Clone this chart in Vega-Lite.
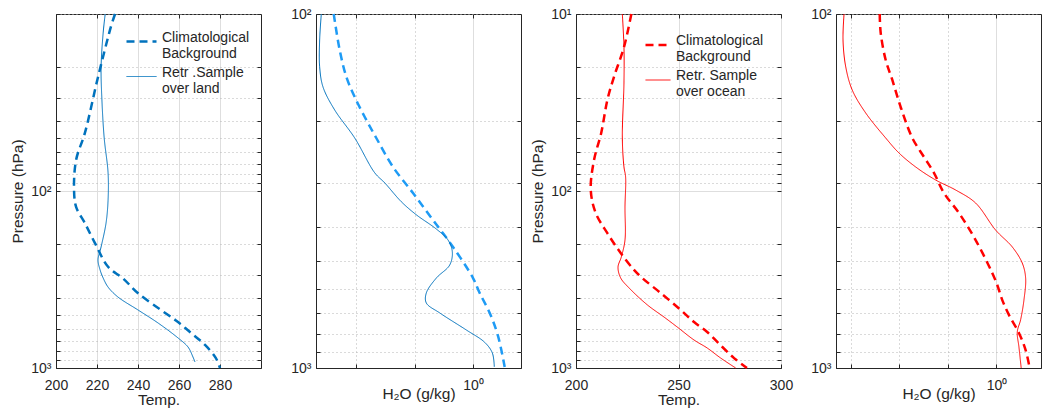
{
  "$schema": "https://vega.github.io/schema/vega-lite/v6.json",
  "background": "white",
  "padding": {"left": 10, "top": 6, "right": 0, "bottom": 0},
  "spacing": 55,
  "bounds": "flush",
  "config": {
    "font": "Liberation Sans",
    "view": {"stroke": "#262626", "strokeWidth": 1},
    "axis": {
      "labelFont": "Liberation Sans", "labelFontSize": 14, "labelColor": "#262626",
      "titleFont": "Liberation Sans", "titleFontSize": 15.5, "titleFontWeight": "normal", "titleColor": "#262626",
      "domainColor": "#262626", "tickColor": "#262626", "tickSize": -4, "labelPadding": 9,
      "gridColor": "#dedede", "labelFlush": false, "labelOverlap": false, "labelBound": false
    },
    "axisBottom": {"labelPadding": 14},
    "legend": {
      "orient": "top-right", "offset": 11, "padding": 0, "labelFont": "Liberation Sans",
      "labelFontSize": 14, "labelColor": "#262626", "symbolType": "stroke", "symbolSize": 900,
      "labelOffset": 4, "rowPadding": 0, "labelLimit": 0, "labelBaseline": "alphabetic"
    },
    "line": {"interpolate": "catmull-rom", "clip": true}
  },
  "datasets": {
    "p1": [
      {"series": "Climatological Background", "T": 228.8, "p": 10},
      {"series": "Climatological Background", "T": 226.8, "p": 11.8},
      {"series": "Climatological Background", "T": 220.5, "p": 22.7},
      {"series": "Climatological Background", "T": 214.1, "p": 47},
      {"series": "Climatological Background", "T": 209.8, "p": 66.8},
      {"series": "Climatological Background", "T": 208.8, "p": 98.7},
      {"series": "Climatological Background", "T": 209.8, "p": 123},
      {"series": "Climatological Background", "T": 214.1, "p": 152},
      {"series": "Climatological Background", "T": 219, "p": 197},
      {"series": "Climatological Background", "T": 225.4, "p": 268},
      {"series": "Climatological Background", "T": 232.7, "p": 312},
      {"series": "Climatological Background", "T": 239.9, "p": 377},
      {"series": "Climatological Background", "T": 251.2, "p": 470},
      {"series": "Climatological Background", "T": 259.5, "p": 550},
      {"series": "Climatological Background", "T": 265.9, "p": 634},
      {"series": "Climatological Background", "T": 272.7, "p": 741},
      {"series": "Climatological Background", "T": 278, "p": 879},
      {"series": "Climatological Background", "T": 280, "p": 1000},
      {"series": "Retr .Sample over land", "T": 224, "p": 10},
      {"series": "Retr .Sample over land", "T": 223, "p": 12.8},
      {"series": "Retr .Sample over land", "T": 222, "p": 19.9},
      {"series": "Retr .Sample over land", "T": 222.4, "p": 30.6},
      {"series": "Retr .Sample over land", "T": 223.5, "p": 50},
      {"series": "Retr .Sample over land", "T": 225.4, "p": 79},
      {"series": "Retr .Sample over land", "T": 225.4, "p": 112.6},
      {"series": "Retr .Sample over land", "T": 224.4, "p": 152},
      {"series": "Retr .Sample over land", "T": 222, "p": 207},
      {"series": "Retr .Sample over land", "T": 220.5, "p": 245},
      {"series": "Retr .Sample over land", "T": 221.5, "p": 279},
      {"series": "Retr .Sample over land", "T": 223, "p": 310},
      {"series": "Retr .Sample over land", "T": 225.4, "p": 349},
      {"series": "Retr .Sample over land", "T": 230.2, "p": 397},
      {"series": "Retr .Sample over land", "T": 240, "p": 470},
      {"series": "Retr .Sample over land", "T": 249.8, "p": 557},
      {"series": "Retr .Sample over land", "T": 259.5, "p": 676},
      {"series": "Retr .Sample over land", "T": 264.4, "p": 761},
      {"series": "Retr .Sample over land", "T": 266.8, "p": 866},
      {"series": "Retr .Sample over land", "T": 267.8, "p": 925}
    ],
    "p2": [
      {"series": "clim", "q": 0.00416, "p": 100},
      {"series": "clim", "q": 0.00526, "p": 126.4},
      {"series": "clim", "q": 0.00684, "p": 150.6},
      {"series": "clim", "q": 0.0095, "p": 171.6},
      {"series": "clim", "q": 0.0141, "p": 195.4},
      {"series": "clim", "q": 0.0222, "p": 224},
      {"series": "clim", "q": 0.0429, "p": 270.5},
      {"series": "clim", "q": 0.0942, "p": 320.4},
      {"series": "clim", "q": 0.207, "p": 381.9},
      {"series": "clim", "q": 0.455, "p": 455},
      {"series": "clim", "q": 1.0, "p": 557},
      {"series": "clim", "q": 1.3, "p": 614},
      {"series": "clim", "q": 1.93, "p": 699},
      {"series": "clim", "q": 2.68, "p": 813},
      {"series": "clim", "q": 3.48, "p": 993},
      {"series": "retr", "q": 0.00255, "p": 100},
      {"series": "retr", "q": 0.00239, "p": 118.4},
      {"series": "retr", "q": 0.00239, "p": 141},
      {"series": "retr", "q": 0.00273, "p": 160.8},
      {"series": "retr", "q": 0.00432, "p": 186.7},
      {"series": "retr", "q": 0.0095, "p": 224},
      {"series": "retr", "q": 0.0209, "p": 281},
      {"series": "retr", "q": 0.031, "p": 300},
      {"series": "retr", "q": 0.0594, "p": 339},
      {"series": "retr", "q": 0.107, "p": 369},
      {"series": "retr", "q": 0.236, "p": 405},
      {"series": "retr", "q": 0.374, "p": 435},
      {"series": "retr", "q": 0.443, "p": 470},
      {"series": "retr", "q": 0.399, "p": 512},
      {"series": "retr", "q": 0.236, "p": 557},
      {"series": "retr", "q": 0.159, "p": 614},
      {"series": "retr", "q": 0.159, "p": 655},
      {"series": "retr", "q": 0.27, "p": 699},
      {"series": "retr", "q": 0.769, "p": 781},
      {"series": "retr", "q": 1.58, "p": 846},
      {"series": "retr", "q": 2.14, "p": 907},
      {"series": "retr", "q": 2.31, "p": 993}
    ],
    "p3": [
      {"series": "Climatological Background", "T": 227, "p": 10},
      {"series": "Climatological Background", "T": 223.4, "p": 15.4},
      {"series": "Climatological Background", "T": 218.5, "p": 22.7},
      {"series": "Climatological Background", "T": 215.3, "p": 30.6},
      {"series": "Climatological Background", "T": 212.3, "p": 47},
      {"series": "Climatological Background", "T": 208.8, "p": 66.8},
      {"series": "Climatological Background", "T": 207.2, "p": 98.6},
      {"series": "Climatological Background", "T": 209.6, "p": 133},
      {"series": "Climatological Background", "T": 215.3, "p": 173},
      {"series": "Climatological Background", "T": 221.8, "p": 224},
      {"series": "Climatological Background", "T": 228.3, "p": 279},
      {"series": "Climatological Background", "T": 232.3, "p": 310},
      {"series": "Climatological Background", "T": 241.3, "p": 377},
      {"series": "Climatological Background", "T": 251.1, "p": 470},
      {"series": "Climatological Background", "T": 257.6, "p": 550},
      {"series": "Climatological Background", "T": 264, "p": 626},
      {"series": "Climatological Background", "T": 271.4, "p": 761},
      {"series": "Climatological Background", "T": 277.1, "p": 879},
      {"series": "Climatological Background", "T": 283.4, "p": 1000},
      {"series": "Retr. Sample over ocean", "T": 222.6, "p": 10},
      {"series": "Retr. Sample over ocean", "T": 223.4, "p": 15.4},
      {"series": "Retr. Sample over ocean", "T": 223.4, "p": 24.5},
      {"series": "Retr. Sample over ocean", "T": 222.6, "p": 50.2},
      {"series": "Retr. Sample over ocean", "T": 223.4, "p": 73.2},
      {"series": "Retr. Sample over ocean", "T": 224.2, "p": 83.3},
      {"series": "Retr. Sample over ocean", "T": 223.9, "p": 123},
      {"series": "Retr. Sample over ocean", "T": 223.9, "p": 189},
      {"series": "Retr. Sample over ocean", "T": 222.1, "p": 236},
      {"series": "Retr. Sample over ocean", "T": 220.5, "p": 269},
      {"series": "Retr. Sample over ocean", "T": 221.8, "p": 310},
      {"series": "Retr. Sample over ocean", "T": 225.9, "p": 353},
      {"series": "Retr. Sample over ocean", "T": 234.8, "p": 440},
      {"series": "Retr. Sample over ocean", "T": 242.9, "p": 515},
      {"series": "Retr. Sample over ocean", "T": 249.4, "p": 587},
      {"series": "Retr. Sample over ocean", "T": 257.6, "p": 695},
      {"series": "Retr. Sample over ocean", "T": 264, "p": 771},
      {"series": "Retr. Sample over ocean", "T": 270.6, "p": 879},
      {"series": "Retr. Sample over ocean", "T": 277.9, "p": 1000}
    ],
    "p4": [
      {"series": "clim", "q": 0.00391, "p": 100},
      {"series": "clim", "q": 0.0041, "p": 113.2},
      {"series": "clim", "q": 0.00519, "p": 134.9},
      {"series": "clim", "q": 0.00711, "p": 153.6},
      {"series": "clim", "q": 0.0106, "p": 183.2},
      {"series": "clim", "q": 0.0184, "p": 224},
      {"series": "clim", "q": 0.032, "p": 253.5},
      {"series": "clim", "q": 0.0514, "p": 281},
      {"series": "clim", "q": 0.0828, "p": 320.4},
      {"series": "clim", "q": 0.169, "p": 365},
      {"series": "clim", "q": 0.372, "p": 435},
      {"series": "clim", "q": 0.819, "p": 539},
      {"series": "clim", "q": 1.04, "p": 583},
      {"series": "clim", "q": 1.32, "p": 643},
      {"series": "clim", "q": 1.81, "p": 708},
      {"series": "clim", "q": 2.91, "p": 796},
      {"series": "clim", "q": 4.0, "p": 890},
      {"series": "clim", "q": 4.84, "p": 1000},
      {"series": "retr", "q": 0.000718, "p": 100},
      {"series": "retr", "q": 0.000684, "p": 118.4},
      {"series": "retr", "q": 0.000778, "p": 141},
      {"series": "retr", "q": 0.00106, "p": 164},
      {"series": "retr", "q": 0.00201, "p": 190.4},
      {"series": "retr", "q": 0.00519, "p": 224},
      {"series": "retr", "q": 0.00977, "p": 247},
      {"series": "retr", "q": 0.0216, "p": 270.5},
      {"series": "retr", "q": 0.0557, "p": 294.4},
      {"series": "retr", "q": 0.144, "p": 314.2},
      {"series": "retr", "q": 0.372, "p": 342},
      {"series": "retr", "q": 0.96, "p": 407.6},
      {"series": "retr", "q": 2.12, "p": 455},
      {"series": "retr", "q": 3.4, "p": 505},
      {"series": "retr", "q": 4.0, "p": 557},
      {"series": "retr", "q": 3.69, "p": 643},
      {"series": "retr", "q": 3.15, "p": 731},
      {"series": "retr", "q": 2.69, "p": 791},
      {"series": "retr", "q": 2.91, "p": 872},
      {"series": "retr", "q": 3.24, "p": 1000}
    ]
  },
  "resolve": {"scale": {"color": "independent", "strokeDash": "independent", "strokeWidth": "independent"}, "legend": {"color": "independent", "strokeDash": "independent", "strokeWidth": "independent"}},
  "hconcat": [
    {
      "width": 205, "height": 354,
      "data": {"name": "p1"},
      "encoding": {
        "color": {"field": "series", "type": "nominal", "scale": {"domain": ["Climatological Background", "Retr .Sample over land"], "range": ["#0072BD", "#0072BD"]}, "legend": {"title": null, "offset": 11, "symbolSize": 900, "labelExpr": "datum.label == 'Climatological Background' ? ['Climatological','Background'] : ['Retr .Sample','over land']"}},
        "strokeDash": {"field": "series", "type": "nominal", "scale": {"domain": ["Climatological Background", "Retr .Sample over land"], "range": [[8, 5], [1, 0]]}, "legend": {"title": null, "offset": 11, "symbolSize": 900, "labelExpr": "datum.label == 'Climatological Background' ? ['Climatological','Background'] : ['Retr .Sample','over land']"}},
        "strokeWidth": {"field": "series", "type": "nominal", "scale": {"domain": ["Climatological Background", "Retr .Sample over land"], "range": [2.5, 1]}, "legend": {"title": null, "offset": 11, "symbolSize": 900, "labelExpr": "datum.label == 'Climatological Background' ? ['Climatological','Background'] : ['Retr .Sample','over land']"}},
        "order": {"field": "p", "type": "quantitative"}
      },
      "layer": [
        {
          "transform": [{"filter": "datum.series == 'Climatological Background'"}],
          "mark": "line",
          "encoding": {
            "x": {"field": "T", "type": "quantitative", "scale": {"domain": [200, 300], "nice": false, "zero": false}, "axis": {"orient": "bottom", "title": "Temp.", "titlePadding": 0, "values": [200, 220, 240, 260, 280], "grid": true}},
            "y": {"field": "p", "type": "quantitative", "scale": {"type": "log", "domain": [10, 1000], "reverse": true, "nice": false}, "axis": {"orient": "left", "title": "Pressure (hPa)", "titlePadding": 5, "values": [10, 20, 30, 40, 50, 60, 70, 80, 90, 100, 200, 300, 400, 500, 600, 700, 800, 900, 1000], "labelExpr": "datum.value == 100 ? '10²' : datum.value == 1000 ? '10³' : ''", "grid": true, "gridDash": {"condition": {"test": "datum.value == 100", "value": []}, "value": [1, 3]}, "gridColor": {"condition": {"test": "datum.value == 100", "value": "#dedede"}, "value": "#b5b5b5"}}}
          }
        },
        {
          "transform": [{"filter": "datum.series != 'Climatological Background'"}],
          "mark": "line",
          "encoding": {
            "x": {"field": "T", "type": "quantitative", "axis": {"orient": "top", "labels": false, "title": null, "domain": false, "grid": false, "values": [200, 220, 240, 260, 280]}},
            "y": {"field": "p", "type": "quantitative", "axis": {"orient": "right", "labels": false, "title": null, "domain": false, "grid": false, "values": [10, 20, 30, 40, 50, 60, 70, 80, 90, 100, 200, 300, 400, 500, 600, 700, 800, 900, 1000]}}
          }
        }
      ],
      "resolve": {"axis": {"x": "independent", "y": "independent"}}
    },
    {
      "width": 205, "height": 354,
      "data": {"name": "p2"},
      "encoding": {
        "color": {"field": "series", "type": "nominal", "scale": {"domain": ["clim", "retr"], "range": ["#1E9BF5", "#0072BD"]}, "legend": null},
        "strokeDash": {"field": "series", "type": "nominal", "scale": {"domain": ["clim", "retr"], "range": [[8, 5], [1, 0]]}, "legend": null},
        "strokeWidth": {"field": "series", "type": "nominal", "scale": {"domain": ["clim", "retr"], "range": [2.5, 1]}, "legend": null},
        "order": {"field": "p", "type": "quantitative"}
      },
      "layer": [
        {
          "transform": [{"filter": "datum.series == 'clim'"}],
          "mark": "line",
          "encoding": {
            "x": {"field": "q", "type": "quantitative", "scale": {"type": "log", "domain": [0.00207, 6.61], "nice": false}, "axis": {"orient": "bottom", "title": "H₂O (g/kg)", "titlePadding": -6, "values": [0.01, 0.1, 1], "labelExpr": "datum.value == 1 ? '10⁰' : ''", "grid": true, "gridDash": {"condition": {"test": "datum.value == 1", "value": []}, "value": [1, 3]}, "gridColor": {"condition": {"test": "datum.value == 1", "value": "#dedede"}, "value": "#b5b5b5"}}},
            "y": {"field": "p", "type": "quantitative", "scale": {"type": "log", "domain": [100, 1000], "reverse": true, "nice": false}, "axis": {"orient": "left", "title": null, "values": [100, 200, 300, 400, 500, 600, 700, 800, 900, 1000], "labelExpr": "datum.value == 100 ? '10²' : datum.value == 1000 ? '10³' : ''", "grid": true, "gridDash": [1, 3], "gridColor": "#b5b5b5"}}
          }
        },
        {
          "transform": [{"filter": "datum.series == 'retr'"}],
          "mark": "line",
          "encoding": {
            "x": {"field": "q", "type": "quantitative", "axis": {"orient": "top", "labels": false, "title": null, "domain": false, "grid": false, "values": [0.01, 0.1, 1]}},
            "y": {"field": "p", "type": "quantitative", "axis": {"orient": "right", "labels": false, "title": null, "domain": false, "grid": false, "values": [100, 200, 300, 400, 500, 600, 700, 800, 900, 1000]}}
          }
        }
      ],
      "resolve": {"axis": {"x": "independent", "y": "independent"}}
    },
    {
      "width": 205, "height": 354,
      "data": {"name": "p3"},
      "encoding": {
        "color": {"field": "series", "type": "nominal", "scale": {"domain": ["Climatological Background", "Retr. Sample over ocean"], "range": ["#FF0000", "#FF0000"]}, "legend": {"title": null, "offset": 17, "rowPadding": 3, "symbolSize": 625, "labelExpr": "datum.label == 'Climatological Background' ? ['Climatological','Background'] : ['Retr. Sample','over ocean']"}},
        "strokeDash": {"field": "series", "type": "nominal", "scale": {"domain": ["Climatological Background", "Retr. Sample over ocean"], "range": [[8, 5], [1, 0]]}, "legend": {"title": null, "offset": 17, "rowPadding": 3, "symbolSize": 625, "labelExpr": "datum.label == 'Climatological Background' ? ['Climatological','Background'] : ['Retr. Sample','over ocean']"}},
        "strokeWidth": {"field": "series", "type": "nominal", "scale": {"domain": ["Climatological Background", "Retr. Sample over ocean"], "range": [2.5, 1]}, "legend": {"title": null, "offset": 17, "rowPadding": 3, "symbolSize": 625, "labelExpr": "datum.label == 'Climatological Background' ? ['Climatological','Background'] : ['Retr. Sample','over ocean']"}},
        "order": {"field": "p", "type": "quantitative"}
      },
      "layer": [
        {
          "transform": [{"filter": "datum.series == 'Climatological Background'"}],
          "mark": "line",
          "encoding": {
            "x": {"field": "T", "type": "quantitative", "scale": {"domain": [200, 300], "nice": false, "zero": false}, "axis": {"orient": "bottom", "title": "Temp.", "titlePadding": 0, "values": [200, 250, 300], "grid": true}},
            "y": {"field": "p", "type": "quantitative", "scale": {"type": "log", "domain": [10, 1000], "reverse": true, "nice": false}, "axis": {"orient": "left", "title": "Pressure (hPa)", "titlePadding": 5, "values": [10, 20, 30, 40, 50, 60, 70, 80, 90, 100, 200, 300, 400, 500, 600, 700, 800, 900, 1000], "labelExpr": "datum.value == 10 ? '10¹' : datum.value == 100 ? '10²' : datum.value == 1000 ? '10³' : ''", "grid": true, "gridDash": {"condition": {"test": "datum.value == 100", "value": []}, "value": [1, 3]}, "gridColor": {"condition": {"test": "datum.value == 100", "value": "#dedede"}, "value": "#b5b5b5"}}}
          }
        },
        {
          "transform": [{"filter": "datum.series != 'Climatological Background'"}],
          "mark": "line",
          "encoding": {
            "x": {"field": "T", "type": "quantitative", "axis": {"orient": "top", "labels": false, "title": null, "domain": false, "grid": false, "values": [200, 250, 300]}},
            "y": {"field": "p", "type": "quantitative", "axis": {"orient": "right", "labels": false, "title": null, "domain": false, "grid": false, "values": [10, 20, 30, 40, 50, 60, 70, 80, 90, 100, 200, 300, 400, 500, 600, 700, 800, 900, 1000]}}
          }
        }
      ],
      "resolve": {"axis": {"x": "independent", "y": "independent"}}
    },
    {
      "width": 205, "height": 354,
      "data": {"name": "p4"},
      "encoding": {
        "color": {"field": "series", "type": "nominal", "scale": {"domain": ["clim", "retr"], "range": ["#FF0000", "#FF0000"]}, "legend": null},
        "strokeDash": {"field": "series", "type": "nominal", "scale": {"domain": ["clim", "retr"], "range": [[8, 5], [1, 0]]}, "legend": null},
        "strokeWidth": {"field": "series", "type": "nominal", "scale": {"domain": ["clim", "retr"], "range": [2.5, 1]}, "legend": null},
        "order": {"field": "p", "type": "quantitative"}
      },
      "layer": [
        {
          "transform": [{"filter": "datum.series == 'clim'"}],
          "mark": "line",
          "encoding": {
            "x": {"field": "q", "type": "quantitative", "scale": {"type": "log", "domain": [0.00049, 8.3], "nice": false}, "axis": {"orient": "bottom", "title": "H₂O (g/kg)", "titlePadding": -6, "values": [0.001, 0.01, 0.1, 1], "labelExpr": "datum.value == 1 ? '10⁰' : ''", "grid": true, "gridDash": {"condition": {"test": "datum.value == 1", "value": []}, "value": [1, 3]}, "gridColor": {"condition": {"test": "datum.value == 1", "value": "#dedede"}, "value": "#b5b5b5"}}},
            "y": {"field": "p", "type": "quantitative", "scale": {"type": "log", "domain": [100, 1000], "reverse": true, "nice": false}, "axis": {"orient": "left", "title": null, "values": [100, 200, 300, 400, 500, 600, 700, 800, 900, 1000], "labelExpr": "datum.value == 100 ? '10²' : datum.value == 1000 ? '10³' : ''", "grid": true, "gridDash": [1, 3], "gridColor": "#b5b5b5"}}
          }
        },
        {
          "transform": [{"filter": "datum.series == 'retr'"}],
          "mark": "line",
          "encoding": {
            "x": {"field": "q", "type": "quantitative", "axis": {"orient": "top", "labels": false, "title": null, "domain": false, "grid": false, "values": [0.001, 0.01, 0.1, 1]}},
            "y": {"field": "p", "type": "quantitative", "axis": {"orient": "right", "labels": false, "title": null, "domain": false, "grid": false, "values": [100, 200, 300, 400, 500, 600, 700, 800, 900, 1000]}}
          }
        }
      ],
      "resolve": {"axis": {"x": "independent", "y": "independent"}}
    }
  ]
}
